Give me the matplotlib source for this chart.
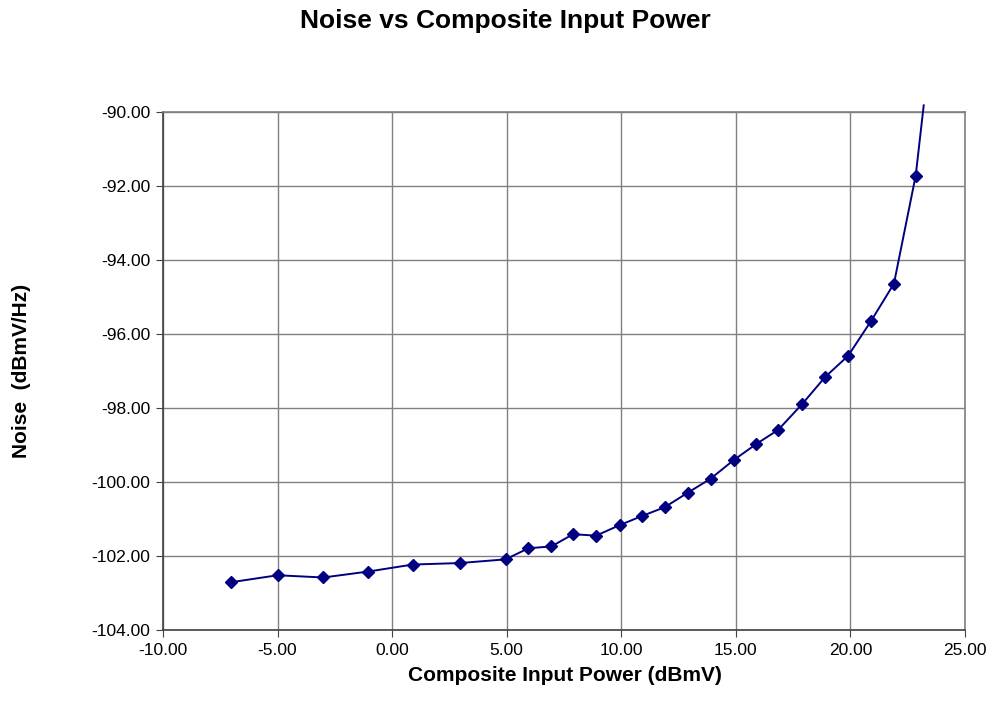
import matplotlib
matplotlib.use("Agg")
import matplotlib.pyplot as plt
from matplotlib.ticker import FormatStrFormatter

plt.rcParams['font.family'] = ['Liberation Sans', 'DejaVu Sans']

power = [-7.05, -5.0, -3.0, -1.05, 0.9, 2.95, 4.95, 5.95, 6.95, 7.9, 8.9, 9.95,
         10.9, 11.9, 12.9, 13.9, 14.9, 15.9, 16.85, 17.9, 18.9, 19.9, 20.9,
         21.9, 22.85, 23.2]
noise = [-102.71, -102.52, -102.58, -102.42, -102.23, -102.19, -102.09, -101.79,
         -101.74, -101.41, -101.45, -101.16, -100.92, -100.68, -100.29, -99.91,
         -99.41, -98.97, -98.59, -97.89, -97.16, -96.59, -95.65, -94.64, -91.72,
         -89.82]

title = "Noise vs Composite Input Power"
xlabel = "Composite Input Power (dBmV)"
ylabel = "Noise  (dBmV/Hz)"

fig = plt.figure(figsize=(9.98, 7.17), dpi=100)
ax = fig.add_axes([0.1633, 0.1213, 0.8036, 0.7225])

navy = '#000080'
ax.plot(power, noise, color=navy, lw=1.4, clip_on=False, zorder=3)
ax.plot(power[:-1], noise[:-1], ls='none', marker='D', ms=6.5, color=navy,
        markeredgecolor=navy, zorder=4, clip_on=False)

ax.set_xlim(-10, 25)
ax.set_ylim(-104, -90)
ax.set_xticks(range(-10, 26, 5))
ax.set_yticks(range(-104, -89, 2))
ax.xaxis.set_major_formatter(FormatStrFormatter('%.2f'))
ax.yaxis.set_major_formatter(FormatStrFormatter('%.2f'))
ax.grid(True, color='#808080', lw=1.0)
ax.set_axisbelow(True)
for s in ['top', 'right']:
    ax.spines[s].set_color('#808080')
for s in ['left', 'bottom']:
    ax.spines[s].set_color('#404040')
for s in ax.spines.values():
    s.set_linewidth(1.2)
ax.tick_params(axis='both', direction='out', length=5, color='#404040',
               labelsize=12.5, pad=4)

fig.text(0.5065, 0.971, title, ha='center', va='center', fontsize=19, fontweight='bold')
fig.text(0.566, 0.0572, xlabel, ha='center', va='center', fontsize=15, fontweight='bold')
fig.text(0.022, 1 - 371 / 717, ylabel, ha='center', va='center', rotation=90,
         fontsize=15, fontweight='bold')

fig.savefig('out.png', dpi=100)
